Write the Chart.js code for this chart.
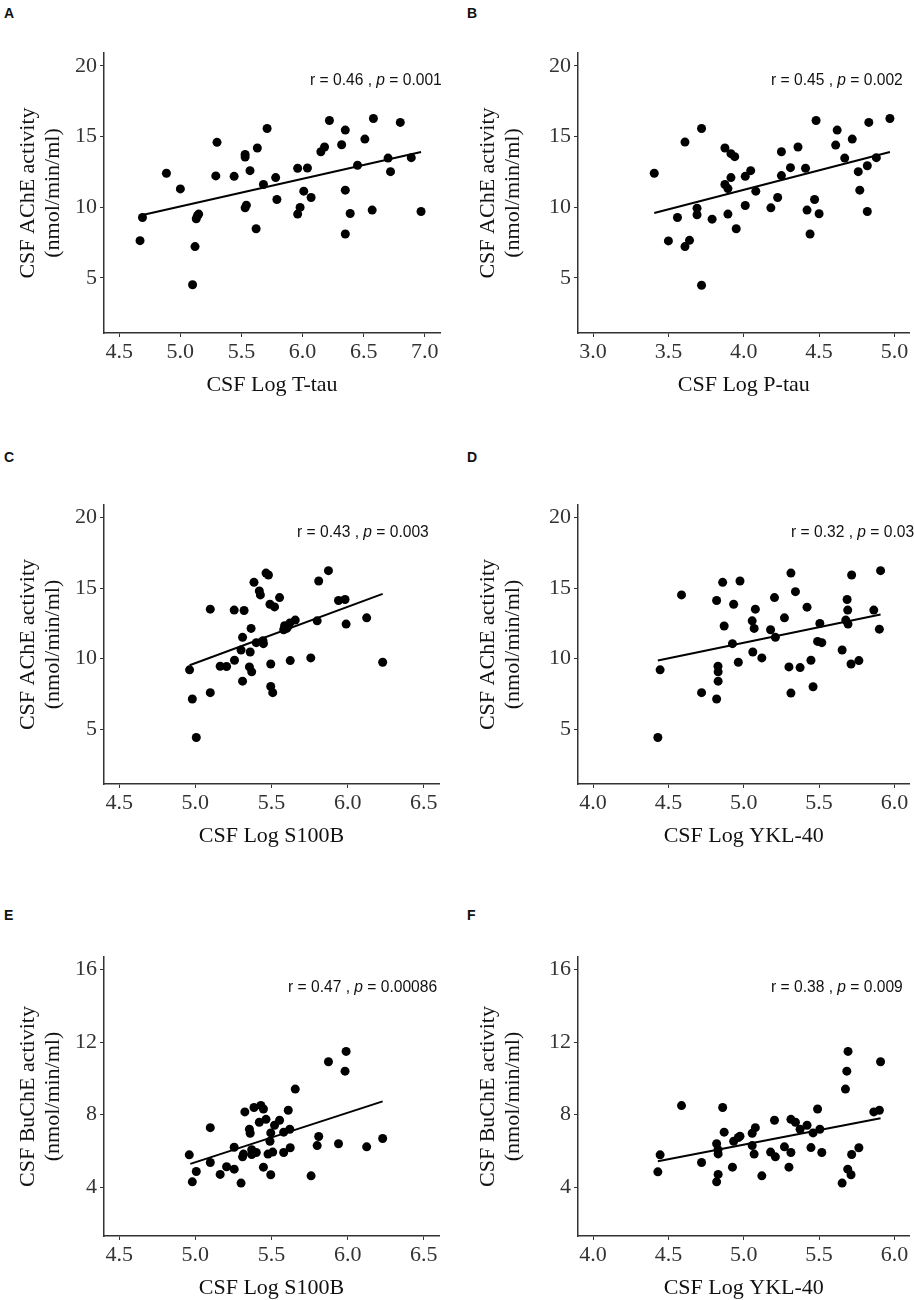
<!DOCTYPE html>
<html lang="en">
<head>
	<meta charset="UTF-8">
	<title>CSF cholinesterase activity vs. CSF biomarkers</title>
	<script src="https://cdn.jsdelivr.net/npm/chart.js@4"></script>
	<style>
		body {
			margin: 0;
			width: 914px;
			height: 1300px;
			overflow: hidden;
			position: relative;
			background: #fff;
			font-family: "Liberation Sans", Arial, sans-serif;
			color: #111;
		}

		canvas {
			position: absolute;
		}

		.tag {
			position: absolute;
			font-weight: bold;
			font-size: 14px;
			line-height: 14px;
		}

		.stat {
			position: absolute;
			font-size: 15.6px;
			line-height: 18px;
			white-space: nowrap;
		}
	</style>
</head>
<body>

<div class="tag" style="left:4px; top:6px">A</div>
<div class="tag" style="left:467px; top:6px">B</div>
<div class="tag" style="left:4px; top:450px">C</div>
<div class="tag" style="left:467px; top:450px">D</div>
<div class="tag" style="left:4px; top:908px">E</div>
<div class="tag" style="left:467px; top:908px">F</div>

<canvas id="chartA" width="457" height="440" style="left:0; top:0"></canvas>
<canvas id="chartB" width="454" height="440" style="left:460px; top:0"></canvas>
<canvas id="chartC" width="457" height="440" style="left:0; top:452px"></canvas>
<canvas id="chartD" width="454" height="440" style="left:460px; top:452px"></canvas>
<canvas id="chartE" width="457" height="396" style="left:0; top:904px"></canvas>
<canvas id="chartF" width="454" height="396" style="left:460px; top:904px"></canvas>

<div class="stat" style="left:310px; top:71px">r = 0.46 , <i>p</i> = 0.001</div>
<div class="stat" style="left:771px; top:71px">r = 0.45 , <i>p</i> = 0.002</div>
<div class="stat" style="left:297px; top:523px">r = 0.43 , <i>p</i> = 0.003</div>
<div class="stat" style="left:791px; top:523px">r = 0.32 , <i>p</i> = 0.03</div>
<div class="stat" style="left:288px; top:978px">r = 0.47 , <i>p</i> = 0.00086</div>
<div class="stat" style="left:771px; top:978px">r = 0.38 , <i>p</i> = 0.009</div>

<script>
	// tick labels
	const achTicks = [5, 10, 15, 20];
	const buchTicks = [4, 8, 12, 16];
	const tTauTicks = [4.5, 5.0, 5.5, 6.0, 6.5, 7.0];
	const pTauTicks = [3.0, 3.5, 4.0, 4.5, 5.0];
	const s100bTicks = [4.5, 5.0, 5.5, 6.0, 6.5];
	const yklTicks = [4.0, 4.5, 5.0, 5.5, 6.0];

	// A: T-tau vs AChE
	const tTauX = [4.67, 4.69, 4.886, 5.0, 5.10, 5.12, 5.13, 5.14, 5.15, 5.29, 5.30, 5.44, 5.53, 5.53, 5.53, 5.54, 5.57, 5.62, 5.63, 5.68, 5.71, 5.78, 5.79, 5.96, 5.96, 5.98, 6.01, 6.04, 6.07, 6.15, 6.18, 6.22, 6.32, 6.35, 6.35, 6.35, 6.39, 6.45, 6.51, 6.57, 6.58, 6.70, 6.72, 6.80, 6.89, 6.97];
	const tTauAChE = [7.63, 9.27, 12.4, 11.29, 4.51, 7.21, 9.18, 9.39, 9.51, 12.21, 14.58, 12.18, 13.73, 13.54, 9.95, 10.14, 12.58, 8.47, 14.18, 11.6, 15.56, 12.09, 10.54, 12.75, 9.51, 9.98, 11.13, 12.77, 10.68, 13.92, 14.25, 16.13, 14.41, 15.45, 11.2, 8.1, 9.55, 12.96, 14.81, 9.79, 16.27, 13.47, 12.51, 15.99, 13.5, 9.69];
	const fitAX = [4.69, 6.97];
	const fitAY = [9.44, 13.9];

	// B: P-tau vs AChE
	const pTauX = [3.406, 3.50, 3.56, 3.61, 3.61, 3.64, 3.69, 3.69, 3.72, 3.72, 3.79, 3.875, 3.875, 3.895, 3.895, 3.915, 3.94, 3.915, 3.95, 4.01, 4.01, 4.046, 4.08, 4.18, 4.225, 4.25, 4.25, 4.31, 4.36, 4.41, 4.42, 4.44, 4.47, 4.48, 4.50, 4.61, 4.62, 4.67, 4.72, 4.76, 4.77, 4.82, 4.82, 4.83, 4.88, 4.97];
	const pTauAChE = [12.4, 7.61, 9.27, 14.6, 7.21, 7.65, 9.93, 9.46, 15.56, 4.48, 9.15, 14.18, 11.6, 11.31, 9.51, 13.78, 13.57, 12.09, 8.47, 12.18, 10.12, 12.58, 11.13, 9.95, 10.68, 13.92, 12.23, 12.79, 14.25, 12.75, 9.79, 8.1, 10.54, 16.13, 9.53, 14.39, 15.45, 13.47, 14.81, 12.51, 11.2, 9.69, 12.93, 15.99, 13.5, 16.27];
	const fitBX = [3.406, 4.97];
	const fitBY = [9.58, 13.9];

	// C: S100B vs AChE
	const s100bXC = [4.962, 4.98, 5.006, 5.098, 5.098, 5.163, 5.205, 5.255, 5.257, 5.30, 5.31, 5.31, 5.32, 5.355, 5.36, 5.366, 5.37, 5.385, 5.40, 5.42, 5.427, 5.444, 5.447, 5.464, 5.48, 5.49, 5.495, 5.495, 5.508, 5.52, 5.553, 5.58, 5.586, 5.60, 5.61, 5.62, 5.623, 5.656, 5.758, 5.80, 5.81, 5.874, 5.94, 5.983, 5.99, 6.125, 6.23];
	const s100bAChE = [9.2, 7.13, 4.4, 13.51, 7.58, 9.46, 9.44, 13.44, 9.88, 10.61, 11.51, 8.4, 13.41, 9.41, 10.47, 12.14, 9.06, 15.41, 11.13, 14.8, 14.52, 11.27, 11.06, 16.07, 15.93, 13.86, 9.62, 8.02, 7.58, 13.67, 14.33, 12.05, 12.33, 12.14, 12.31, 12.52, 9.86, 12.73, 10.05, 12.68, 15.51, 16.24, 14.12, 14.19, 12.45, 12.89, 9.74];
	const fitCX = [4.962, 6.23];
	const fitCY = [9.53, 14.59];

	// D: YKL-40 vs AChE
	const yklXD = [4.43, 4.445, 4.587, 4.72, 4.82, 4.82, 4.829, 4.83, 4.83, 4.86, 4.87, 4.925, 4.933, 4.964, 4.975, 5.056, 5.06, 5.069, 5.077, 5.12, 5.178, 5.204, 5.21, 5.27, 5.30, 5.313, 5.313, 5.343, 5.374, 5.42, 5.446, 5.46, 5.49, 5.505, 5.518, 5.653, 5.677, 5.686, 5.69, 5.692, 5.712, 5.716, 5.764, 5.863, 5.90, 5.908];
	const yklAChE = [4.4, 9.2, 14.52, 7.58, 14.12, 7.13, 9.46, 9.06, 8.4, 15.41, 12.31, 11.06, 13.86, 9.74, 15.51, 12.68, 10.47, 12.14, 13.51, 10.05, 12.05, 14.33, 11.51, 12.89, 9.41, 16.07, 7.55, 14.75, 9.36, 13.65, 9.88, 8.0, 11.22, 12.49, 11.13, 10.61, 12.73, 14.19, 13.44, 12.45, 9.62, 15.93, 9.86, 13.44, 12.09, 16.24];
	const fitDX = [4.43, 5.908];
	const fitDY = [9.86, 13.13];

	// E: S100B vs BuChE
	const s100bXE = [4.96, 4.98, 5.006, 5.098, 5.098, 5.163, 5.205, 5.255, 5.255, 5.30, 5.31, 5.316, 5.325, 5.355, 5.36, 5.37, 5.37, 5.385, 5.40, 5.42, 5.43, 5.447, 5.447, 5.464, 5.477, 5.49, 5.495, 5.495, 5.508, 5.52, 5.553, 5.58, 5.58, 5.61, 5.62, 5.623, 5.656, 5.76, 5.80, 5.81, 5.874, 5.94, 5.983, 5.99, 6.125, 6.23];
	const s100bBuChE = [5.78, 4.29, 4.86, 7.28, 5.36, 4.70, 5.12, 6.2, 4.99, 4.22, 5.67, 5.82, 8.15, 7.19, 6.97, 6.06, 5.8, 8.39, 5.91, 7.58, 8.51, 8.31, 5.1, 7.74, 5.82, 6.53, 6.99, 4.68, 5.93, 7.41, 7.69, 7.03, 5.91, 8.24, 7.19, 6.17, 9.41, 4.62, 6.29, 6.79, 10.92, 6.39, 10.4, 11.49, 6.22, 6.68];
	const fitEX = [4.967, 6.23];
	const fitEY = [5.28, 8.73];

	// F: YKL-40 vs BuChE
	const yklXF = [4.43, 4.445, 4.587, 4.72, 4.82, 4.82, 4.829, 4.83, 4.83, 4.86, 4.87, 4.925, 4.933, 4.964, 4.975, 5.056, 5.056, 5.069, 5.077, 5.12, 5.178, 5.204, 5.21, 5.27, 5.30, 5.313, 5.313, 5.343, 5.374, 5.42, 5.446, 5.46, 5.49, 5.505, 5.518, 5.653, 5.675, 5.684, 5.69, 5.692, 5.712, 5.716, 5.764, 5.863, 5.90, 5.908];
	const yklBuChE = [4.84, 5.78, 8.50, 5.36, 6.39, 4.29, 6.06, 5.83, 4.70, 8.39, 7.03, 5.10, 6.53, 6.74, 6.81, 6.97, 6.29, 5.82, 7.28, 4.62, 5.93, 7.69, 5.67, 6.22, 5.10, 7.74, 5.91, 7.58, 7.19, 7.41, 6.18, 6.99, 8.31, 7.19, 5.91, 4.22, 9.41, 10.4, 4.99, 11.49, 4.68, 5.80, 6.17, 8.15, 8.24, 10.92];
	const fitFX = [4.43, 5.908];
	const fitFY = [5.43, 7.8];

	const achTitle = ['CSF AChE activity', '(nmol/min/ml)'];
	const buchTitle = ['CSF BuChE activity', '(nmol/min/ml)'];

	const serif = 'Liberation Serif';
	const axisColor = '#333';
	const titleLh = 1.15;

	function pairs(xs, ys) {
		return xs.map((v, i) => ({x: v, y: ys[i]}));
	}

	// o.left / o.top / o.right / o.xh put the plot box where the figure has it
	function makePanel(id, o) {
		return new Chart(document.getElementById(id), {
			type: 'scatter',
			data: {
				datasets: [
					{
						data: pairs(o.x, o.y),
						backgroundColor: '#000',
						borderWidth: 0,
						pointRadius: 4.5,
						pointHoverRadius: 4.5
					},
					{
						type: 'line',
						data: pairs(o.fitX, o.fitY),
						borderColor: '#000',
						borderWidth: 2,
						pointRadius: 0,
						fill: false
					}
				]
			},
			options: {
				responsive: false,
				animation: false,
				events: [],
				layout: {padding: {top: o.top, right: o.right, left: 0, bottom: 0}},
				plugins: {legend: {display: false}, tooltip: {enabled: false}},
				scales: {
					x: {
						type: 'linear',
						min: o.xMin,
						max: o.xMax,
						afterBuildTicks: s => { s.ticks = o.xTicks.map(v => ({value: v})); },
						afterFit: s => { s.height = o.xh; },
						ticks: {
							callback: v => Number(v).toFixed(1),
							color: axisColor,
							font: {family: serif, size: 22},
							padding: 2,
							maxRotation: 0,
							autoSkip: false
						},
						grid: {drawOnChartArea: false, drawTicks: true, tickLength: 4, tickColor: axisColor},
						border: {color: axisColor, width: 1.5},
						title: {
							display: true,
							text: o.xTitle,
							color: '#111',
							font: {family: serif, size: 22, lineHeight: titleLh},
							padding: {top: 0, bottom: o.xh - 52 - 22 * titleLh / 2}
						}
					},
					y: {
						type: 'linear',
						min: o.yMin,
						max: o.yMax,
						afterBuildTicks: s => { s.ticks = o.yTicks.map(v => ({value: v})); },
						afterFit: s => { s.width = o.left; },
						ticks: {
							callback: v => String(v),
							color: axisColor,
							font: {family: serif, size: 22},
							padding: 3,
							autoSkip: false
						},
						grid: {drawOnChartArea: false, drawTicks: true, tickLength: 4, tickColor: axisColor},
						border: {color: axisColor, width: 1.5},
						title: {
							display: true,
							text: o.yTitle,
							color: '#111',
							font: {family: serif, size: 22, lineHeight: titleLh},
							padding: {top: 28 - 22 * titleLh / 2, bottom: 0}
						}
					}
				}
			}
		});
	}

	makePanel('chartA', {
		x: tTauX, y: tTauAChE, fitX: fitAX, fitY: fitAY,
		xMin: 4.375, xMax: 7.125, xTicks: tTauTicks, xTitle: 'CSF Log T-tau',
		yMin: 1.1, yMax: 20.9, yTicks: achTicks, yTitle: achTitle,
		left: 104, top: 53, right: 17, xh: 107
	});
	makePanel('chartB', {
		x: pTauX, y: pTauAChE, fitX: fitBX, fitY: fitBY,
		xMin: 2.9, xMax: 5.1, xTicks: pTauTicks, xTitle: 'CSF Log P-tau',
		yMin: 1.1, yMax: 20.9, yTicks: achTicks, yTitle: achTitle,
		left: 118, top: 53, right: 0, xh: 107
	});
	makePanel('chartC', {
		x: s100bXC, y: s100bAChE, fitX: fitCX, fitY: fitCY,
		xMin: 4.4, xMax: 6.6, xTicks: s100bTicks, xTitle: 'CSF Log S100B',
		yMin: 1.1, yMax: 20.9, yTicks: achTicks, yTitle: achTitle,
		left: 104, top: 53, right: 18, xh: 108
	});
	makePanel('chartD', {
		x: yklXD, y: yklAChE, fitX: fitDX, fitY: fitDY,
		xMin: 3.9, xMax: 6.1, xTicks: yklTicks, xTitle: 'CSF Log YKL-40',
		yMin: 1.1, yMax: 20.9, yTicks: achTicks, yTitle: achTitle,
		left: 118, top: 53, right: 0, xh: 108
	});
	makePanel('chartE', {
		x: s100bXE, y: s100bBuChE, fitX: fitEX, fitY: fitEY,
		xMin: 4.4, xMax: 6.6, xTicks: s100bTicks, xTitle: 'CSF Log S100B',
		yMin: 1.3, yMax: 16.7, yTicks: buchTicks, yTitle: buchTitle,
		left: 104, top: 53, right: 18, xh: 64
	});
	makePanel('chartF', {
		x: yklXF, y: yklBuChE, fitX: fitFX, fitY: fitFY,
		xMin: 3.9, xMax: 6.1, xTicks: yklTicks, xTitle: 'CSF Log YKL-40',
		yMin: 1.3, yMax: 16.7, yTicks: buchTicks, yTitle: buchTitle,
		left: 118, top: 53, right: 0, xh: 64
	});
</script>
</body>
</html>
